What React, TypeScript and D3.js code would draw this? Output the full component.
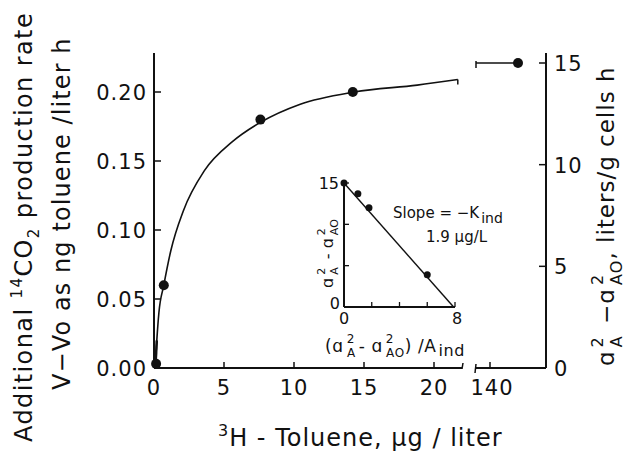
import React from 'react';
import * as d3 from 'd3';

// main curve (fitted line)
const CURVE_X = [0.1, 0.2, 0.35, 0.7, 1.2, 2.1, 3.6, 5.6, 7.6, 10.4, 14.3, 18.8, 21.7];
const CURVE_Y = [0.003, 0.02, 0.04, 0.06, 0.085, 0.114, 0.143, 0.164, 0.178, 0.191, 0.2, 0.205, 0.209];

// measured points
const POINT_X = [0.15, 0.7, 7.6, 14.2];
const POINT_Y = [0.003, 0.06, 0.18, 0.2];

// point beyond the axis break
const BREAK_X = [139, 142];
const BREAK_Y = [0.221, 0.221];

const X_TICKS = [0, 5, 10, 15, 20];
const X2_TICKS = [140];
const Y_TICKS = [0, 0.05, 0.1, 0.15, 0.2];
const YR_TICKS = [0, 5, 10, 15];

// inset
const INSET_X = [0, 1.0, 1.8, 6.0];
const INSET_Y = [15, 13.7, 12.0, 3.9];
const INSET_LINE_X = [0, 7.9];
const INSET_LINE_Y = [15, 0];
const INSET_XTICKS = [0, 2, 4, 6, 8];
const INSET_YTICKS = [0, 5, 10, 15];

const FONT = "'DejaVu Sans', sans-serif";

const App = () => {
  const x = d3.scaleLinear().domain([0, 22]).range([154, 462]);
  const x2 = d3.scaleLinear().domain([139, 144]).range([476, 546]);
  const y = d3.scaleLinear().domain([0, 0.2]).range([368, 92]);
  const yR = d3.scaleLinear().domain([0, 15]).range([368, 63]);
  const ix = d3.scaleLinear().domain([0, 8]).range([344, 455]);
  const iy = d3.scaleLinear().domain([0, 15]).range([307, 183]);

  const curve = d3
    .line<number>()
    .x((d, i) => x(CURVE_X[i]))
    .y(d => y(d))
    .curve(d3.curveMonotoneX);

  const x0 = x(0);
  const y0 = y(0);
  const yTop = 53;
  const xr = x2.range()[1];
  const stroke = '#111';

  return (
    <svg width={626} height={454} style={{ position: 'absolute', left: 0, top: 0, background: '#fff' }} fontFamily={FONT} fill={stroke}>
      {/* left axis */}
      <line x1={x0} y1={y0} x2={x0} y2={yTop} stroke={stroke} strokeWidth={2} />
      {Y_TICKS.map(t => (
        <g key={t}>
          <line x1={x0} x2={x0 + 7} y1={y(t)} y2={y(t)} stroke={stroke} strokeWidth={1.5} />
          <text x={x0 - 7} y={y(t) + 8} fontSize={21} letterSpacing={1} textAnchor="end">{t.toFixed(2)}</text>
        </g>
      ))}

      {/* x axis, first part */}
      <line x1={x0} y1={y0} x2={x(22)} y2={y0} stroke={stroke} strokeWidth={2} />
      <line x1={x(22)} y1={y0 + 1} x2={x(22) + 1} y2={y0 - 5} stroke={stroke} strokeWidth={1.5} />
      {X_TICKS.map(t => (
        <g key={t}>
          {t > 0 && <line x1={x(t)} x2={x(t)} y1={y0} y2={y0 - 6} stroke={stroke} strokeWidth={1.5} />}
          <text x={x(t)} y={395} fontSize={21} letterSpacing={1} textAnchor="middle">{t}</text>
        </g>
      ))}

      {/* x axis, after the break */}
      <line x1={x2(139)} y1={y0} x2={xr} y2={y0} stroke={stroke} strokeWidth={2} />
      <line x1={x2(139) - 1} y1={y0 + 5} x2={x2(139)} y2={y0 - 4} stroke={stroke} strokeWidth={1.5} />
      {X2_TICKS.map(t => (
        <g key={t}>
          <line x1={x2(t)} x2={x2(t)} y1={y0} y2={y0 - 6} stroke={stroke} strokeWidth={1.5} />
          <text x={x2(t) + 2} y={395} fontSize={21} letterSpacing={1} textAnchor="middle">{t}</text>
        </g>
      ))}

      {/* right axis */}
      <line x1={xr} y1={y0} x2={xr} y2={yTop} stroke={stroke} strokeWidth={2} />
      {YR_TICKS.map(t => (
        <g key={t}>
          <line x1={xr} x2={xr - 7} y1={yR(t)} y2={yR(t)} stroke={stroke} strokeWidth={1.5} />
          <text x={xr + 8} y={yR(t) + 8} fontSize={21} letterSpacing={1}>{t}</text>
        </g>
      ))}

      {/* fitted curve */}
      <path d={curve(CURVE_Y) || ''} fill="none" stroke={stroke} strokeWidth={1.6} />
      <line x1={x(CURVE_X[0])} y1={y0} x2={x(CURVE_X[1])} y2={y(CURVE_Y[1])} stroke={stroke} strokeWidth={2.5} />
      <line x1={x(21.7)} y1={y(0.209)} x2={x(21.7)} y2={y(0.209) + 5} stroke={stroke} strokeWidth={1.5} />
      <line x1={x2(BREAK_X[0])} y1={y(BREAK_Y[0])} x2={x2(BREAK_X[1])} y2={y(BREAK_Y[1])} stroke={stroke} strokeWidth={1.6} />
      <line x1={x2(BREAK_X[0])} y1={y(BREAK_Y[0]) - 2} x2={x2(BREAK_X[0])} y2={y(BREAK_Y[0]) + 5} stroke={stroke} strokeWidth={1.5} />

      {POINT_X.map((px, i) => (
        <circle key={i} cx={x(px)} cy={y(POINT_Y[i])} r={5} fill={stroke} />
      ))}
      <circle cx={x2(BREAK_X[1])} cy={y(BREAK_Y[1])} r={5} fill={stroke} />

      {/* inset */}
      <line x1={ix(0)} y1={iy(0)} x2={ix(0)} y2={iy(15)} stroke={stroke} strokeWidth={2} />
      <line x1={ix(0)} y1={iy(0)} x2={ix(8)} y2={iy(0)} stroke={stroke} strokeWidth={2} />
      {INSET_XTICKS.slice(1).map(t => (
        <line key={t} x1={ix(t)} x2={ix(t)} y1={iy(0)} y2={iy(0) - 5} stroke={stroke} strokeWidth={1.3} />
      ))}
      {INSET_YTICKS.slice(1).map(t => (
        <line key={t} x1={ix(0)} x2={ix(0) + 5} y1={iy(t)} y2={iy(t)} stroke={stroke} strokeWidth={1.3} />
      ))}
      <path
        d={d3.line<number>().x((d, i) => ix(INSET_LINE_X[i])).y(d => iy(d))(INSET_LINE_Y) || ''}
        fill="none"
        stroke={stroke}
        strokeWidth={1.4}
      />
      {INSET_X.map((px, i) => (
        <circle key={i} cx={ix(px)} cy={iy(INSET_Y[i])} r={3.5} fill={stroke} />
      ))}
      <text x={ix(0) - 5} y={iy(15) + 6} fontSize={16} textAnchor="end">15</text>
      <text x={ix(0) - 4} y={iy(0) + 2} fontSize={16} textAnchor="end">0</text>
      <text x={ix(0)} y={iy(0) + 17} fontSize={16} textAnchor="middle">0</text>
      <text x={ix(8) + 2} y={iy(0) + 17} fontSize={16} textAnchor="middle">8</text>

      <text x={393} y={218} fontSize={15}>
        Slope = −K<tspan fontSize={14} dy={5} dx={2}>ind</tspan>
      </text>
      <text x={426} y={242} fontSize={15}>1.9 μg/L</text>

      {/* inset x label */}
      <text x={325} y={352} fontSize={17} letterSpacing={0.6}>
        (ɑ<tspan fontSize={12} dy={-9} dx={3}>2</tspan>
        <tspan fontSize={12} dy={14} dx={-8}>A</tspan>
        <tspan dy={-5} dx={3}>- ɑ</tspan>
        <tspan fontSize={12} dy={-9} dx={3}>2</tspan>
        <tspan fontSize={12} dy={14} dx={-8}>AO</tspan>
        <tspan dy={-5}>) /A</tspan>
        <tspan fontSize={16} dy={4} dx={2}>ind</tspan>
      </text>

      {/* inset y label */}
      <text transform="translate(333,288) rotate(-90)" fontSize={16}>
        ɑ<tspan fontSize={11} dy={-8} dx={3}>2</tspan>
        <tspan fontSize={11} dy={13} dx={-7}>A</tspan>
        <tspan dy={-5} dx={3}> - ɑ</tspan>
        <tspan fontSize={11} dy={-8} dx={3}>2</tspan>
        <tspan fontSize={11} dy={13} dx={-7}>AO</tspan>
      </text>

      {/* left axis titles */}
      <text transform="translate(32,442) rotate(-90)" fontSize={24} letterSpacing={1.4}>
        Additional{'   '}<tspan fontSize={15} dy={-10}>14</tspan>
        <tspan dy={10}>CO</tspan>
        <tspan fontSize={15} dy={7}>2</tspan>
        <tspan dy={-7}>{'   '}production{'  '}rate</tspan>
      </text>
      <text transform="translate(70,390) rotate(-90)" fontSize={24} letterSpacing={1.1}>
        V−Vo as ng toluene /liter{'  '}h
      </text>

      {/* right axis title */}
      <text transform="translate(614,366) rotate(-90)" fontSize={23} letterSpacing={1}>
        ɑ<tspan fontSize={16} dy={-11} dx={3}>2</tspan>
        <tspan fontSize={16} dy={19} dx={-11}>A</tspan>
        <tspan dy={-8} dx={3}>{' '}−ɑ</tspan>
        <tspan fontSize={16} dy={-11} dx={3}>2</tspan>
        <tspan fontSize={16} dy={19} dx={-11}>AO</tspan>
        <tspan dy={-8}>, liters/g cells{'  '}h</tspan>
      </text>

      {/* x axis title */}
      <text x={218} y={446} fontSize={24} letterSpacing={1}>
        <tspan fontSize={16} dy={-10}>3</tspan>
        <tspan dy={10}>H - Toluene, μg / liter</tspan>
      </text>
    </svg>
  );
};

export default App;
